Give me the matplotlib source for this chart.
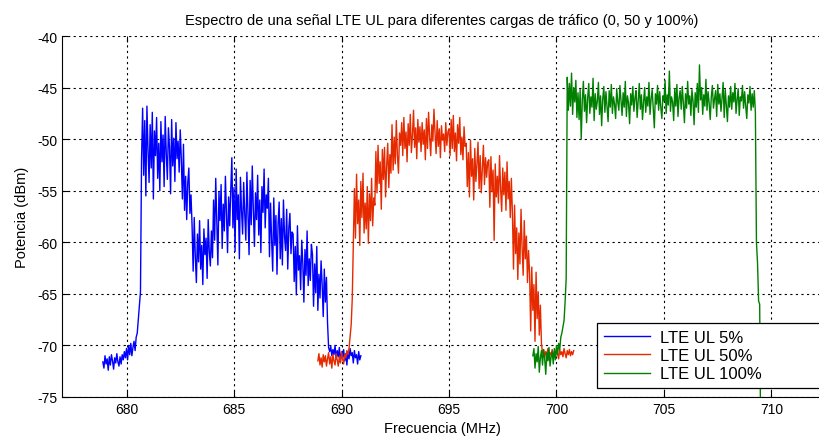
import numpy as np
import matplotlib.pyplot as plt

plt.rcParams['font.family'] = ['Liberation Sans', 'DejaVu Sans']
plt.rcParams['axes.unicode_minus'] = False

# Power readings (dBm), one every 0.05 MHz from the start frequency
step_mhz = 0.05

start_5 = 678.9
power_5 = [
    # noise floor
    -71.6, -72.2, -71.0, -71.8, -71.3, -72.4, -71.1, -71.9, -70.9, -71.5,
    -72.3, -71.2, -71.7, -70.8, -71.6, -72.0, -71.1, -71.8, -70.9, -71.4,
    -70.6, -71.2,
    -70.3, -71.4, -70.0, -70.9, -69.8, -71.0, -70.2, -69.6, -70.5, -69.2,
    -68.8, -67.5, -66.2, -64.8,
    -52.0,
    # first block of allocated resource blocks
    -47.0, -53.5, -48.2, -55.5, -46.8, -51.0, -54.2, -48.6, -52.8, -47.4,
    -55.8, -49.2, -51.6, -47.9, -53.8, -50.4, -55.0, -48.3, -52.2, -49.6,
    -54.6, -47.8, -51.4, -53.9, -48.9, -50.8, -55.3, -48.1, -52.6, -49.9,
    -54.1, -48.4, -51.9, -50.2, -53.2, -49.1,
    -52.0, -55.8, -50.5, -56.9, -53.6, -57.8, -54.2, -52.8, -57.2, -55.4,
    -58.4, -62.8, -57.6, -61.4, -63.9, -59.2, -61.9, -57.9, -62.6, -60.3,
    -64.1, -58.7, -61.2, -59.6, -63.5, -57.8, -60.9, -62.3, -58.9,
    -61.5, -55.9, -59.8, -53.8, -58.2, -62.2, -55.1, -57.9, -54.4, -60.6,
    -56.3, -58.9, -53.6, -57.4, -61.0, -55.6, -58.4, -54.9,
    -51.8, -58.6, -54.7, -60.9, -52.9, -57.8, -55.4, -61.6, -53.7, -56.9,
    -59.2, -54.2, -57.3,
    -59.8, -53.2, -57.4, -61.2, -54.0, -58.3, -52.6, -56.9, -60.4, -55.2,
    -57.8, -53.5, -59.3, -55.9, -61.0, -54.6, -57.1, -52.9, -58.6, -55.4,
    -56.7, -53.8,
    -61.4, -56.2, -59.8, -62.8, -55.7, -60.3, -57.4, -63.1, -58.2, -56.1,
    -61.6, -57.7, -62.2, -55.9, -59.4, -60.8, -56.8, -62.6, -58.6, -57.2,
    -61.1, -59.0,
    -59.2, -63.8, -60.4, -65.1, -58.4, -62.7, -61.3, -64.6, -59.8, -62.0,
    -65.8, -60.7, -63.2, -58.9, -64.2, -61.6, -63.7, -60.2,
    -61.2, -66.2, -62.1, -64.9, -60.4, -66.6, -63.1, -65.4, -61.8, -64.1,
    -67.2, -62.6, -65.8, -63.4,
    -67.8, -70.2,
    # noise floor
    -70.6, -70.1, -71.0, -70.4, -70.9, -70.0, -71.3, -70.5, -71.1, -70.2,
    -71.6, -70.7, -71.2, -70.4, -71.5, -70.8, -71.9, -70.6, -71.3, -70.3,
    -71.0, -70.7, -71.7, -70.5, -71.2, -70.9, -71.8, -70.6, -71.4, -71.0,
]

start_50 = 688.9
power_50 = [
    -71.5, -70.8, -71.9, -71.2, -72.1, -70.9, -71.6, -71.0, -72.0, -71.3,
    -70.7, -71.8, -71.1, -72.2, -70.9, -71.5, -71.9, -70.8, -71.4, -72.0,
    -71.1, -71.7, -70.6, -71.3, -71.8, -70.9, -71.2, -70.5, -70.9, -70.3,
    -69.1, -68.0, -65.5, -60.0,
    -54.8, -59.6, -53.4, -58.2, -55.9, -60.3, -54.1, -57.6, -53.3, -59.1,
    -56.2, -58.7, -54.6, -60.1, -55.3, -57.9, -53.8, -58.4, -55.7,
    -56.4, -51.2, -55.2, -50.6, -54.3, -52.2, -56.8, -51.0, -53.9, -50.8,
    -55.6, -52.6, -50.4, -54.7, -51.5, -53.3,
    -48.6, -53.0, -49.8, -52.4, -48.2, -51.6, -53.3, -49.4, -50.6,
    -48.4, -51.6, -47.9, -50.9, -49.3, -52.2, -48.5, -50.6, -47.6, -51.3,
    -49.6, -47.2, -50.8, -48.9, -51.9, -48.1, -50.3, -48.8, -51.2, -48.4,
    -50.5, -49.1, -52.0, -48.0, -50.9, -47.4, -49.8, -51.6, -48.6, -50.2,
    -47.1, -49.4, -51.4, -48.2, -50.7, -49.0, -51.8, -48.7, -50.1, -49.5,
    -51.2, -48.4, -50.6, -49.3,
    -49.0, -51.6, -48.1, -50.9, -47.7, -51.2, -49.4, -52.1, -48.6, -50.4,
    -47.9, -51.5, -49.8, -52.0, -48.8, -50.7,
    -50.4, -54.6, -51.3, -55.6, -50.1, -53.6, -51.9, -55.9, -50.9, -54.1,
    -52.4, -50.3, -54.8, -51.6, -55.2, -52.8, -50.6, -54.4, -51.8, -53.7,
    -52.2,
    -52.0, -56.6, -51.7, -55.1, -53.0, -59.8, -52.4, -55.6, -53.6, -56.2,
    -51.6, -54.8, -57.0, -52.8, -55.4, -53.2, -56.9, -52.2, -55.8, -54.1,
    -57.6, -53.8,
    -57.2, -62.6, -56.4, -61.1, -58.6, -63.6, -59.1, -62.1, -56.8, -60.5,
    -63.2, -57.9, -61.6, -59.4, -63.9, -60.8,
    -63.1, -68.6, -62.4, -66.6, -64.1, -69.6, -62.9, -67.4, -64.8, -69.0,
    -66.1, -69.8,
    -70.8, -70.4, -71.2, -70.6, -71.0, -70.3, -71.4, -70.7, -70.9, -70.4,
    -71.2, -70.6, -71.0, -70.5, -70.8, -71.3, -70.4, -70.9, -70.6, -71.1,
    -70.3, -70.8, -71.2, -70.5, -70.9, -70.4, -71.0, -70.6, -70.9, -70.5,
]

start_100 = 698.9
power_100 = [
    -71.0, -70.3, -72.2, -70.8, -71.6, -70.1, -72.6, -71.2, -70.5, -71.9,
    -70.4, -71.3, -72.8, -70.7, -71.5, -70.2, -72.0, -71.1, -70.6, -71.8,
    -70.3, -71.4, -70.0, -70.9,
    -69.8, -70.4, -69.2, -68.8, -68.2, -67.6, -65.8, -63.5,
    # full load: flat across the whole channel
    -44.0, -47.2, -44.6, -46.8, -43.6, -47.6, -45.0, -46.4, -44.3, -47.9,
    -45.5, -48.1, -45.2, -50.0, -46.2, -44.4, -47.3, -45.7, -48.4, -46.0,
    -44.6, -47.5, -45.9, -46.9, -44.1, -48.2, -45.6, -47.1, -46.3, -44.5,
    -47.6, -45.8, -48.7, -46.1, -44.9, -47.4, -45.4, -46.8, -48.3, -45.3,
    -46.9, -44.7, -47.5, -45.9, -46.6, -48.0, -45.1, -46.4, -47.2, -44.8,
    -46.3, -47.7, -45.5, -46.9, -44.4, -47.8, -45.8, -46.5, -48.5, -45.6,
    -46.7, -44.9, -47.3, -46.0, -45.3, -47.9, -46.2, -44.6, -47.1, -45.7,
    -48.1, -46.4, -45.0, -47.4, -45.9, -46.8, -44.5, -47.6, -46.1, -45.2,
    -47.0, -48.9, -45.6, -46.6, -44.8, -47.2, -45.4, -46.9, -48.0, -45.8,
    -46.3, -44.3, -47.5, -45.7, -46.7, -43.4, -47.3, -45.9, -46.4, -48.2,
    -45.1, -46.8, -44.7, -47.8, -46.0, -45.3, -47.1, -44.9, -46.5, -48.4,
    -45.6, -47.0, -44.4, -46.6, -45.8, -47.7, -45.2, -46.3, -48.6, -45.5,
    -46.9, -44.6, -47.4, -42.8, -46.2, -45.0, -47.6, -45.7, -46.8, -44.2,
    -47.2, -45.4, -46.5, -48.1, -45.9, -44.8, -47.0, -46.1, -45.3, -47.8,
    -44.7, -46.6, -45.6, -47.3, -46.0, -44.5, -47.9, -45.2, -46.7, -48.3,
    -45.8, -46.9, -44.9, -47.1, -45.5, -46.4, -44.6, -47.5, -46.2, -45.1,
    -47.7, -45.9, -46.3, -44.8, -47.0, -45.4, -46.8, -48.0, -45.7, -46.5,
    -44.9, -47.2, -45.6, -46.9, -45.3, -47.4,
    -60.0, -62.0, -65.7, -66.0, -80.0,
]

labels = ['LTE UL 5%', 'LTE UL 50%', 'LTE UL 100%']
colors = ['#0000ff', '#e62a00', '#008000']
x_ticks = [680, 685, 690, 695, 700, 705, 710]
y_ticks = [-75, -70, -65, -60, -55, -50, -45, -40]


def freq_axis(start, values):
    return start + step_mhz * np.arange(len(values))


fig = plt.figure(figsize=(8.2, 4.39), dpi=100)
ax = fig.add_axes([62 / 820, 41 / 439, 760 / 820, 361 / 439])

for start, values, lab, col in zip([start_5, start_50, start_100],
                                   [power_5, power_50, power_100],
                                   labels, colors):
    ax.plot(freq_axis(start, values), values, color=col, lw=1.0, label=lab)

ax.set_xlim(677.0, 677.0 + 760 / 21.5)
ax.set_ylim(-75, -40)
ax.set_xticks(x_ticks)
ax.set_yticks(y_ticks)
ax.grid(True, color='black', linestyle=(0, (2, 3)), linewidth=0.8)
ax.tick_params(direction='in', length=4, top=True, labelsize=10, colors='black')
ax.spines['top'].set_visible(False)
ax.spines['right'].set_visible(False)

ax.set_title('Espectro de una señal LTE UL para diferentes cargas de tráfico (0, 50 y 100%)',
             fontsize=10.5, pad=9)
ax.set_xlabel('Frecuencia (MHz)', fontsize=10.5, labelpad=4)
ax.set_ylabel('Potencia (dBm)', fontsize=10.5, labelpad=6)

leg = ax.legend(loc='lower left', bbox_to_anchor=(597 / 820, 50 / 439, 225 / 820, 70 / 439),
                bbox_transform=fig.transFigure, mode='expand', borderaxespad=0,
                fontsize=12, labelspacing=0.2, handlelength=2.8, handletextpad=0.6,
                fancybox=False, framealpha=1, edgecolor='black', borderpad=0.4)
leg.get_frame().set_linewidth(0.9)

fig.savefig('out.png', dpi=100)
